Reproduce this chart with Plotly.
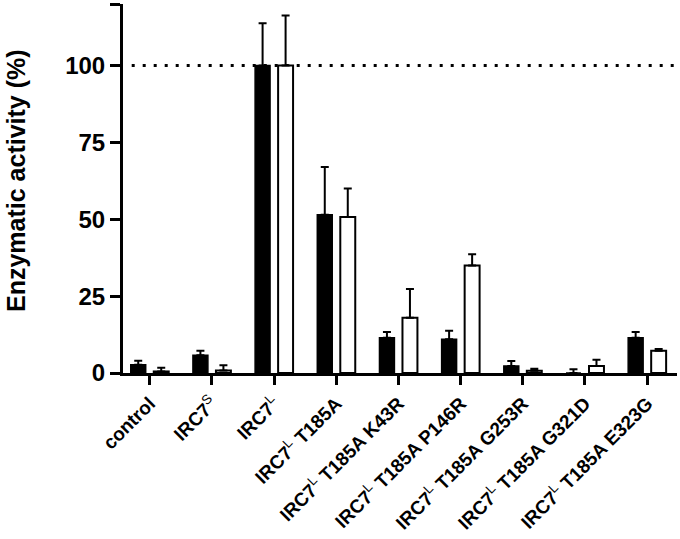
import plotly.graph_objects as go

SUP_L = "<sup><span style='font-weight:normal'>L</span></sup>"
SUP_S = "<sup><span style='font-weight:normal'>S</span></sup>"
categories = ["control", "IRC7" + SUP_S, "IRC7" + SUP_L,
              "IRC7" + SUP_L + " T185A", "IRC7" + SUP_L + " T185A K43R",
              "IRC7" + SUP_L + " T185A P146R", "IRC7" + SUP_L + " T185A G253R",
              "IRC7" + SUP_L + " T185A G321D", "IRC7" + SUP_L + " T185A E323G"]
black_vals = [2.7, 5.8, 100, 51.5, 11.5, 11.0, 2.3, 0.0, 11.5]
black_err = [1.3, 1.4, 13.7, 15.5, 1.8, 2.7, 1.6, 1.2, 1.8]
white_vals = [0.5, 0.8, 100, 50.7, 18.0, 35.0, 0.7, 2.3, 7.2]
white_err = [1.2, 1.7, 16.3, 9.3, 9.3, 3.6, 0.7, 2.0, 0.6]
y_ticks = [0, 25, 50, 75, 100, 120]
y_ticklabels = ["0", "25", "50", "75", "100", ""]
reference_level = 100

x = list(range(len(categories)))

fig = go.Figure()
fig.add_trace(go.Bar(
    x=x, y=black_vals, marker=dict(color="black", line=dict(color="black", width=1.5)),
    error_y=dict(type="data", symmetric=False, array=black_err, arrayminus=[0]*len(x),
                 color="black", thickness=2, width=4),
    showlegend=False))
fig.add_trace(go.Bar(
    x=x, y=white_vals, marker=dict(color="white", line=dict(color="black", width=2)),
    error_y=dict(type="data", symmetric=False, array=white_err, arrayminus=[0]*len(x),
                 color="black", thickness=2, width=4),
    showlegend=False))

fig.add_shape(type="line", xref="paper", yref="y", x0=0.0157, x1=1,
              y0=reference_level, y1=reference_level,
              line=dict(color="black", width=3, dash="3px,8px"), layer="below")

font_family = "Liberation Sans, Arial, sans-serif"
L, R, T, B = 123, 3, 4, 166
W, H = 680, 539
pw, ph = W - L - R, H - T - B

fig.add_annotation(
    text="Enzymatic activity (%)", textangle=-90, showarrow=False,
    xref="paper", yref="paper",
    x=(16 - L) / pw, y=(H - B - 181) / ph, xanchor="center", yanchor="middle",
    font=dict(size=25, family=font_family, weight="bold", color="black"))

fig.update_layout(
    width=W, height=H,
    margin=dict(l=L, r=R, t=T, b=B, pad=0),
    plot_bgcolor="white", paper_bgcolor="white",
    barmode="group", bargap=0.26, bargroupgap=0.35,
    font=dict(family=font_family, color="black"),
    xaxis=dict(
        tickmode="array", tickvals=x, ticktext=categories,
        range=[-0.43, 8.48], tickangle=-45,
        showline=True, linecolor="black", linewidth=3,
        ticks="outside", ticklen=9, tickwidth=3, tickcolor="black",
        tickfont=dict(size=19, family=font_family, weight="bold"),
        showgrid=False, zeroline=False, automargin=False),
    yaxis=dict(
        range=[0, 120], tickmode="array", tickvals=y_ticks, ticktext=y_ticklabels,
        showline=True, linecolor="black", linewidth=3,
        ticks="outside", ticklen=10, tickwidth=3, tickcolor="black",
        tickfont=dict(size=24, family=font_family, weight="bold"),
        showgrid=False, zeroline=False, automargin=False),
)

fig.write_html("out.html", config={"displayModeBar": False},
               post_script="document.body.style.margin='0';document.body.style.overflow='hidden';")
